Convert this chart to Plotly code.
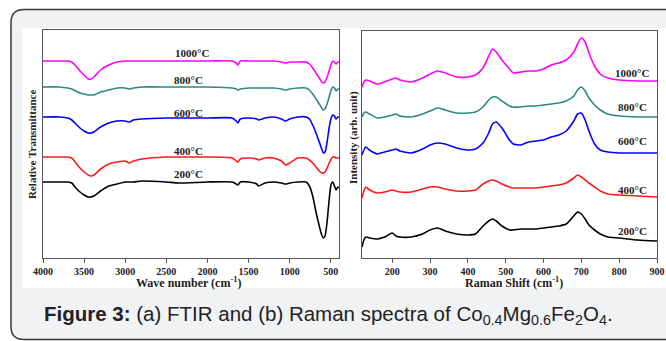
import plotly.graph_objects as go

W, H = 666, 341

# ---------------- data ----------------
temps = ["1000°C", "800°C", "600°C", "400°C", "200°C"]
colors = ["#ff00ff", "#2a8a80", "#0000ff", "#ff1a1a", "#000000"]

ftir_wavenumber = [4000, 3800, 3700, 3650, 3600, 3550, 3500, 3450, 3420, 3380,
                   3300, 3200, 3100, 3000, 2950, 2900, 2800, 2500, 2350, 2000,
                   1700, 1650, 1630, 1600, 1500, 1400, 1380, 1300, 1200, 1100,
                   1050, 1000, 900, 800, 760, 720, 680, 640, 610, 590,
                   570, 545, 520, 495, 475, 455, 435, 415, 400]

ftir_1000 = [197, 197, 197, 196, 192, 187, 183, 179, 179, 181,
             188, 193, 196, 197, 197, 197, 197, 197, 197, 197,
             197, 195, 193, 197, 197, 197, 197, 197, 197, 196,
             195, 196, 196, 196, 194, 190, 185, 180, 176, 175,
             176, 181, 187, 194, 197, 196, 194, 196, 196]
ftir_800 = [171, 171, 170, 169, 167, 165, 164, 163, 163, 163,
            166, 168, 170, 170, 169, 170, 171, 171, 171, 171,
            170, 169, 168, 169, 170, 170, 170, 170, 170, 169,
            168, 169, 170, 170, 168, 164, 159, 154, 150, 148,
            149, 154, 161, 168, 171, 170, 167, 169, 169]
ftir_600 = [141, 141, 140, 138, 134, 130, 127, 125, 125, 126,
            131, 135, 137, 137, 136, 138, 139, 140, 140, 140,
            140, 137, 135, 139, 140, 139, 138, 140, 141, 139,
            137, 139, 141, 141, 139, 133, 125, 116, 109, 105,
            106, 116, 130, 140, 143, 142, 139, 141, 141]
ftir_400 = [101, 101, 101, 100, 95, 90, 86, 83, 82, 83,
            89, 94, 96, 97, 95, 97, 99, 101, 101, 101,
            100, 97, 96, 99, 100, 99, 98, 100, 100, 97,
            93, 95, 100, 100, 98, 95, 91, 87, 85, 85,
            86, 90, 95, 99, 101, 101, 100, 100, 100]
ftir_200 = [76, 76, 76, 75, 70, 66, 63, 61, 61, 62,
            67, 72, 74, 76, 76, 76, 77, 76, 75, 76,
            76, 74, 73, 76, 76, 74, 72, 75, 76, 75,
            74, 75, 76, 76, 72, 62, 46, 32, 23, 20,
            22, 36, 58, 74, 76, 72, 68, 71, 70]
ftir_series = [ftir_1000, ftir_800, ftir_600, ftir_400, ftir_200]

raman_shift = [120, 125, 130, 140, 160, 180, 200, 210, 220, 250,
               280, 300, 320, 340, 370, 400, 420, 440, 455, 465,
               475, 490, 510, 520, 540, 560, 580, 600, 620, 640,
               660, 680, 690, 700, 710, 720, 735, 750, 770, 800,
               850, 900]

raman_1000 = [171, 176, 178, 177, 174, 176, 179, 180, 178, 176,
              180, 184, 187, 185, 181, 181, 183, 190, 202, 209,
              206, 198, 189, 185, 186, 187, 187, 189, 193, 195,
              198, 206, 214, 220, 216, 205, 192, 184, 180, 178,
              177, 177]
raman_800 = [141, 145, 146, 144, 140, 141, 143, 144, 142, 141,
             144, 147, 150, 148, 145, 145, 146, 151, 158, 161,
             161, 157, 152, 151, 151, 152, 152, 153, 154, 155,
             157, 162, 168, 171, 167, 160, 153, 148, 144, 142,
             141, 141]
raman_600 = [103, 108, 111, 108, 104, 106, 108, 109, 107, 105,
             109, 113, 115, 114, 110, 108, 109, 115, 125, 134,
             136, 130, 118, 114, 113, 116, 117, 118, 121, 123,
             127, 137, 144, 145, 138, 127, 114, 108, 106, 105,
             105, 105]
raman_400 = [60, 67, 71, 68, 65, 66, 68, 67, 66, 66,
             69, 71, 71, 69, 67, 67, 68, 74, 77, 78,
             77, 74, 71, 70, 70, 70, 70, 71, 72, 73,
             75, 80, 83, 81, 78, 75, 71, 67, 64, 63,
             62, 61]
raman_200 = [11, 18, 21, 20, 19, 21, 25, 22, 21, 21,
             24, 28, 30, 27, 24, 23, 24, 32, 37, 39,
             37, 32, 28, 28, 29, 29, 29, 30, 31, 32,
             34, 42, 46, 44, 39, 33, 28, 24, 21, 20,
             18, 17]
raman_series = [raman_1000, raman_800, raman_600, raman_400, raman_200]

ftir_ticks = [4000, 3500, 3000, 2500, 2000, 1500, 1000, 500]
raman_ticks = [200, 300, 400, 500, 600, 700, 800, 900]

# ---------------- helpers ----------------
def px(x):
    return x / W

def py(y):
    return 1 - y / H

fig = go.Figure()

for name, col, ys in zip(temps, colors, ftir_series):
    fig.add_trace(go.Scatter(x=ftir_wavenumber, y=ys, mode="lines", name=name,
                             line=dict(color=col, width=1.6, shape="spline", smoothing=0.6),
                             xaxis="x", yaxis="y", showlegend=False))
for name, col, ys in zip(temps, colors, raman_series):
    fig.add_trace(go.Scatter(x=raman_shift, y=ys, mode="lines", name=name,
                             line=dict(color=col, width=1.6, shape="spline", smoothing=0.6),
                             xaxis="x2", yaxis="y2", showlegend=False))

serif = "Liberation Serif, Times New Roman, serif"
tickfont = dict(family=serif, size=10, color="#222", weight="bold")
axline = dict(showline=True, linecolor="#555", linewidth=1.3, mirror=True,
              showgrid=False, zeroline=False, automargin=False)

fig.update_layout(
    template="none",
    width=W, height=H, margin=dict(l=0, r=0, t=0, b=0, pad=0), autosize=False,
    paper_bgcolor="white", plot_bgcolor="white",
    xaxis=dict(domain=[px(43), px(339)], range=[4000, 400], tickvals=ftir_ticks,
               ticks="outside", ticklen=4, tickcolor="#555", tickfont=tickfont,
               anchor="y", **axline),
    yaxis=dict(domain=[py(258), py(30)], range=[0, 228], showticklabels=False,
               ticks="", anchor="x", **axline),
    xaxis2=dict(domain=[px(362), px(657)], range=[120, 900], tickvals=raman_ticks,
                ticks="outside", ticklen=4, tickcolor="#555", tickfont=tickfont,
                anchor="y2", **axline),
    yaxis2=dict(domain=[py(258), py(31)], range=[0, 227], showticklabels=False,
                ticks="", anchor="x2", **axline),
)

# background frame: rounded grey panel, white chart area
r = 13
x0, x1, y0, y1 = 11, 690, 9.5, 339.5
path = (f"M {px(x0)},{py(y0 + r)} Q {px(x0)},{py(y0)} {px(x0 + r)},{py(y0)} "
        f"L {px(x1 - r)},{py(y0)} Q {px(x1)},{py(y0)} {px(x1)},{py(y0 + r)} "
        f"L {px(x1)},{py(y1 - r)} Q {px(x1)},{py(y1)} {px(x1 - r)},{py(y1)} "
        f"L {px(x0 + r)},{py(y1)} Q {px(x0)},{py(y1)} {px(x0)},{py(y1 - r)} Z")
fig.add_shape(type="path", path=path, xref="paper", yref="paper",
              fillcolor="#f1f2f4", line=dict(color="#3a3a3a", width=1.5), layer="below")
fig.add_shape(type="rect", xref="paper", yref="paper",
              x0=px(22), x1=px(668), y0=py(288), y1=py(28),
              fillcolor="white", line=dict(width=0), layer="below")

# temperature labels
lab_font = dict(family=serif, size=11, color="#222", weight="bold")
ftir_lab_x = [2190, 2230, 2230, 2230, 2230]
ftir_lab_y = [205, 178, 145, 107, 84]
raman_lab_x = [835, 835, 835, 835, 835]
raman_lab_y = [185, 151, 117, 68, 27]
for t, xx, yy in zip(temps, ftir_lab_x, ftir_lab_y):
    fig.add_annotation(x=xx, y=yy, xref="x", yref="y", text=t, showarrow=False,
                       font=lab_font, xanchor="center", yanchor="middle")
for t, xx, yy in zip(temps, raman_lab_x, raman_lab_y):
    fig.add_annotation(x=xx, y=yy, xref="x2", yref="y2", text=t, showarrow=False,
                       font=lab_font, xanchor="center", yanchor="middle")

# axis titles
title_font = dict(family=serif, size=12, color="#222", weight="bold")
fig.add_annotation(x=px(188), y=py(282), xref="paper", yref="paper",
                   xanchor="center", yanchor="middle",
                   text="Wave number (cm<sup>-1</sup>)", showarrow=False, font=title_font)
fig.add_annotation(x=px(514), y=py(282), xref="paper", yref="paper",
                   xanchor="center", yanchor="middle",
                   text="Raman Shift (cm<sup>-1</sup>)", showarrow=False, font=title_font)
fig.add_annotation(x=px(32), y=py(145), xref="paper", yref="paper", textangle=-90,
                   xanchor="center", yanchor="middle",
                   text="Relative Transmittance", showarrow=False,
                   font=dict(family=serif, size=11, color="#222", weight="bold"))
fig.add_annotation(x=px(353), y=py(138), xref="paper", yref="paper", textangle=-90,
                   xanchor="center", yanchor="middle",
                   text="Intensity (arb. unit)", showarrow=False,
                   font=dict(family=serif, size=11, color="#222", weight="bold"))

# caption
fig.add_annotation(x=px(42), y=py(315), xref="paper", yref="paper",
                   xanchor="left", yanchor="middle",
                   text="<b>Figure 3:</b> (a) FTIR and (b) Raman spectra of "
                        "Co<sub>0.4</sub>Mg<sub>0.6</sub>Fe<sub>2</sub>O<sub>4</sub>.",
                   showarrow=False,
                   font=dict(family="Liberation Sans, Arial, sans-serif", size=20.5, color="#222"))

fig.write_html("out.html", config={"displayModeBar": False},
               post_script="document.body.style.margin='0';")
